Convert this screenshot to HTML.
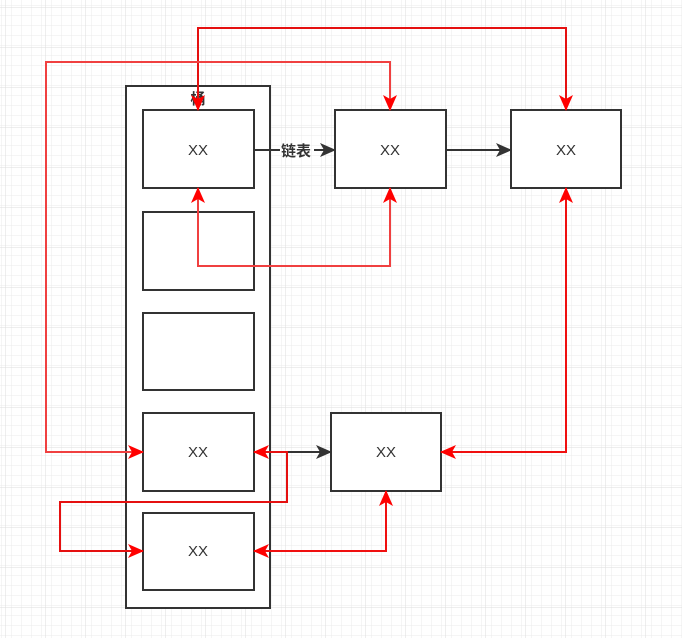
<!DOCTYPE html>
<html><head><meta charset="utf-8"><style>
html,body{margin:0;padding:0;background:#fff}
svg{display:block}
</style></head><body>
<svg width="682" height="638" viewBox="0 0 682 638" xmlns="http://www.w3.org/2000/svg">
<defs>
<pattern id="g" width="10" height="10" patternUnits="userSpaceOnUse" x="6" y="8">
<path d="M10 0V10H0" fill="none" stroke="#ebebeb" stroke-width="1"/>
</pattern>
<pattern id="G" width="40" height="40" patternUnits="userSpaceOnUse" x="6" y="8">
<rect width="40" height="40" fill="url(#g)"/>
<path d="M40 0V40H0" fill="none" stroke="#dddddd" stroke-width="1"/>
</pattern>
<marker id="ar2" markerWidth="16" markerHeight="14" refX="15" refY="7" orient="auto-start-reverse" markerUnits="userSpaceOnUse"><path d="M0,0 L16,7 L0,14 L4,7z" fill="#f00"/></marker>
<marker id="ab" markerWidth="16" markerHeight="14" refX="15" refY="7" orient="auto" markerUnits="userSpaceOnUse"><path d="M0,0 L16,7 L0,14 L4,7z" fill="#333"/></marker>
</defs>
<rect width="682" height="638" fill="url(#G)"/>
<g fill="#fff" stroke="#333" stroke-width="2">
<rect x="126" y="86" width="144" height="522"/>
<rect x="143" y="110" width="111" height="78"/>
<rect x="143" y="212" width="111" height="78"/>
<rect x="143" y="313" width="111" height="77"/>
<rect x="143" y="413" width="111" height="78"/>
<rect x="143" y="513" width="111" height="77"/>
<rect x="335" y="110" width="111" height="78"/>
<rect x="511" y="110" width="110" height="78"/>
<rect x="331" y="413" width="110" height="78"/>
</g>
<g font-family="Liberation Sans, sans-serif" font-size="15" fill="#333" text-anchor="middle">
<text x="198" y="155">XX</text><text x="198" y="457">XX</text><text x="198" y="556">XX</text>
<text x="390" y="155">XX</text><text x="566" y="155">XX</text><text x="386" y="457">XX</text>
</g>
<text x="198" y="104" font-family="Liberation Sans, 'Noto Sans CJK SC', sans-serif" font-size="15" font-weight="bold" fill="#333" text-anchor="middle">桶</text>
<g fill="none" stroke-width="2">
<path d="M254 150H280" stroke="#333"/>
<path d="M314 150H335" stroke="#333" marker-end="url(#ab)"/>
<path d="M446 150H511" stroke="#333" marker-end="url(#ab)"/>
<path d="M287 452H331" stroke="#333" marker-end="url(#ab)"/>
<path d="M198 110V28H566V110" stroke="#e51010" marker-end="url(#ar2)" marker-start="url(#ar2)"/>
<path d="M390 110V62H46V452H143" stroke="#f04040" marker-end="url(#ar2)" marker-start="url(#ar2)"/>
<path d="M198 188V266H390V188" stroke="#f04040" marker-end="url(#ar2)" marker-start="url(#ar2)"/>
<path d="M566 188V452H441" stroke="#f01010" marker-end="url(#ar2)" marker-start="url(#ar2)"/>
<path d="M254 452H287V502H60V551H143" stroke="#e51010" marker-end="url(#ar2)" marker-start="url(#ar2)"/>
<path d="M254 551H386V491" stroke="#f01010" marker-end="url(#ar2)" marker-start="url(#ar2)"/>
</g>
<text x="296" y="156" font-family="Liberation Sans, 'Noto Sans CJK SC', sans-serif" font-size="15" font-weight="bold" fill="#333" text-anchor="middle">链表</text>
</svg>
</body></html>
